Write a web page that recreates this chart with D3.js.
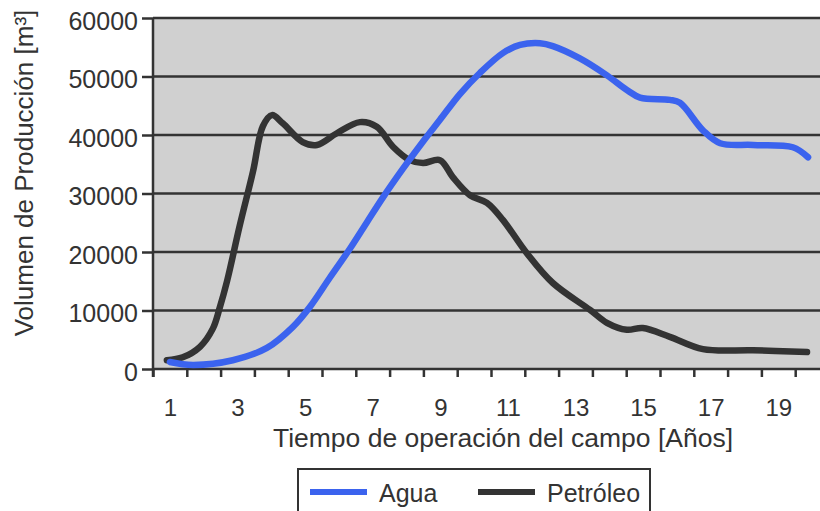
<!DOCTYPE html>
<html>
<head>
<meta charset="utf-8">
<script src="https://cdn.jsdelivr.net/npm/d3@7"></script>
<style>
  body { margin: 0; background: #fff; }
  text { font-family: "Liberation Sans", Arial, sans-serif; fill: #333; }
</style>
</head>
<body>
<div id="chart"></div>
<script>
// years (fractional) and volumes
const aguaYears = [1.0, 1.68, 2.86, 3.87, 4.64, 5.14, 5.73, 6.33, 6.83, 7.30, 7.89, 8.49, 8.99, 9.58, 10.17, 10.85, 11.36, 11.95, 12.33, 13.13, 13.93, 14.52, 14.91, 15.79, 16.09, 16.77, 17.28, 18.25, 19.43, 19.88];
const agua = [1200, 700, 1500, 3600, 7200, 10600, 15600, 20600, 25100, 29300, 34200, 38900, 42600, 47000, 50600, 54000, 55400, 55700, 55200, 53100, 50200, 47700, 46400, 46000, 45500, 40800, 38600, 38300, 37900, 36200];

const petroleoYears = [0.91, 1.38, 1.89, 2.27, 2.48, 2.69, 3.07, 3.46, 3.75, 4.02, 4.34, 4.93, 5.35, 5.94, 6.62, 7.12, 7.60, 8.10, 8.49, 8.99, 9.37, 9.88, 10.38, 10.85, 11.56, 12.33, 13.43, 13.93, 14.52, 14.99, 15.79, 16.77, 18.25, 19.85];
const petroleo = [1500, 2000, 3800, 6900, 10600, 15000, 24600, 33800, 41500, 43400, 42000, 38800, 38300, 40300, 42200, 41400, 38000, 35700, 35200, 35700, 32800, 29700, 28400, 25500, 19800, 14700, 10100, 7900, 6700, 7000, 5500, 3400, 3200, 2900];

const yTicks = [0, 10000, 20000, 30000, 40000, 50000, 60000];
const xLabels = [1, 3, 5, 7, 9, 11, 13, 15, 17, 19];
const xBounds = d3.range(0.5, 21, 1);

const width = 820, height = 511;
const margin = { top: 18, left: 153, bottom: 142 };

const svg = d3.select("#chart").append("svg")
  .attr("width", width).attr("height", height);

const x = d3.scaleLinear().domain([0.5, 20.5]).range([margin.left, margin.left + 20 * 33.8]);
const y = d3.scaleLinear().domain([0, 60000]).range([height - margin.bottom, margin.top]);

// plot background
svg.append("rect")
  .attr("x", margin.left).attr("y", margin.top)
  .attr("width", width - margin.left).attr("height", y(0) - margin.top)
  .attr("fill", "#d0d0d0");

// horizontal grid
svg.append("g").selectAll("line").data(yTicks).enter().append("line")
  .attr("x1", margin.left).attr("x2", width)
  .attr("y1", d => y(d)).attr("y2", d => y(d))
  .attr("stroke", "#333").attr("stroke-width", 2.5);

// y axis
const yAxis = svg.append("g")
  .attr("transform", `translate(${margin.left},0)`)
  .call(d3.axisLeft(y).tickValues(yTicks).tickSize(11).tickPadding(4).tickFormat(d3.format("d")));
yAxis.select(".domain").remove();
yAxis.selectAll(".tick line").attr("stroke", "#333").attr("stroke-width", 2.5);
yAxis.selectAll(".tick text").attr("font-size", 25).attr("dy", "0.45em")
  .style("font-family", "Liberation Sans, Arial, sans-serif").attr("fill", "#333");
svg.append("line")
  .attr("x1", margin.left).attr("x2", margin.left)
  .attr("y1", margin.top).attr("y2", y(0) + 8)
  .attr("stroke", "#333").attr("stroke-width", 2.5);

// x axis: ticks at year boundaries, labels on odd years
const xAxis = svg.append("g")
  .attr("transform", `translate(0,${y(0)})`)
  .call(d3.axisBottom(x).tickValues(xBounds).tickSize(8).tickFormat(""));
xAxis.select(".domain").remove();
xAxis.selectAll(".tick line").attr("stroke", "#333").attr("stroke-width", 2.5);

const xLab = svg.append("g")
  .attr("transform", `translate(0,${y(0)})`)
  .call(d3.axisBottom(x).tickValues(xLabels).tickSize(0).tickPadding(30).tickFormat(d3.format("d")));
xLab.select(".domain").remove();
xLab.selectAll(".tick text").attr("font-size", 24)
  .style("font-family", "Liberation Sans, Arial, sans-serif").attr("fill", "#333");

// axis titles
svg.append("text")
  .attr("x", 503).attr("y", 447)
  .attr("text-anchor", "middle").attr("font-size", 26.5)
  .text("Tiempo de operación del campo [Años]");

svg.append("text")
  .attr("transform", "translate(33,173) rotate(-90)")
  .attr("text-anchor", "middle").attr("font-size", 26)
  .text("Volumen de Producción [m³]");

// series
const line = d3.line()
  .x(d => x(d[0])).y(d => y(d[1]))
  .curve(d3.curveCatmullRom.alpha(0.5));

const series = [
  { name: "Agua", years: aguaYears, values: agua, color: "#3b63ee" },
  { name: "Petróleo", years: petroleoYears, values: petroleo, color: "#333333" }
];

svg.append("g").selectAll("path").data(series.slice().reverse()).enter().append("path")
  .attr("d", s => line(s.years.map((yr, i) => [yr, s.values[i]])))
  .attr("fill", "none")
  .attr("stroke", s => s.color)
  .attr("stroke-width", 6.5)
  .attr("stroke-linecap", "round")
  .attr("stroke-linejoin", "round");

// legend
const legend = svg.append("g");
legend.append("rect")
  .attr("x", 298).attr("y", 469).attr("width", 352).attr("height", 60)
  .attr("fill", "#fff").attr("stroke", "#333").attr("stroke-width", 2);
const items = legend.selectAll("g").data(series).enter().append("g")
  .attr("transform", (d, i) => `translate(${i === 0 ? 310 : 478},492)`);
items.append("line")
  .attr("x1", 0).attr("x2", 57).attr("y1", 0).attr("y2", 0)
  .attr("stroke", d => d.color).attr("stroke-width", 6);
items.append("text")
  .attr("x", 69).attr("y", 10).attr("font-size", 25)
  .text(d => d.name);
</script>
</body>
</html>
